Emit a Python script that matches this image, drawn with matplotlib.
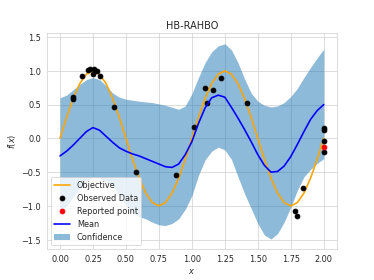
import matplotlib
matplotlib.use("Agg")
import matplotlib.pyplot as plt
import seaborn as sns

# grid of x values the curves were read at
x_grid = [0.00, 0.05, 0.10, 0.15, 0.20, 0.25, 0.30, 0.35, 0.40, 0.45,
          0.50, 0.55, 0.60, 0.65, 0.70, 0.75, 0.80, 0.85, 0.90, 0.95,
          1.00, 1.05, 1.10, 1.15, 1.20, 1.25, 1.30, 1.35, 1.40, 1.45,
          1.50, 1.55, 1.60, 1.65, 1.70, 1.75, 1.80, 1.85, 1.90, 1.95, 2.00]

objective = [0.00, 0.31, 0.59, 0.81, 0.95, 1.00, 0.95, 0.81, 0.59, 0.31,
             0.00, -0.31, -0.59, -0.81, -0.95, -1.00, -0.95, -0.81, -0.59, -0.31,
             0.00, 0.31, 0.59, 0.81, 0.95, 1.00, 0.95, 0.81, 0.59, 0.31,
             0.00, -0.31, -0.59, -0.81, -0.95, -1.00, -0.95, -0.81, -0.59, -0.31, 0.00]

mean = [-0.26, -0.19, -0.10, 0.00, 0.10, 0.16, 0.12, 0.03, -0.06, -0.14,
        -0.19, -0.23, -0.26, -0.30, -0.34, -0.38, -0.42, -0.43, -0.38, -0.24,
        -0.05, 0.22, 0.45, 0.60, 0.64, 0.61, 0.46, 0.30, 0.13, -0.05,
        -0.24, -0.40, -0.50, -0.49, -0.41, -0.27, -0.09, 0.10, 0.28, 0.41, 0.50]

upper = [0.60, 0.64, 0.72, 0.80, 0.87, 0.90, 0.87, 0.78, 0.67, 0.61,
         0.58, 0.565, 0.55, 0.54, 0.53, 0.51, 0.49, 0.46, 0.43, 0.48,
         0.66, 0.90, 1.12, 1.28, 1.37, 1.40, 1.31, 1.12, 0.88, 0.67,
         0.55, 0.49, 0.465, 0.48, 0.53, 0.62, 0.74, 0.90, 1.05, 1.19, 1.32]

lower = [-1.12, -1.00, -0.87, -0.74, -0.63, -0.575, -0.59, -0.64, -0.71, -0.84,
         -0.99, -1.10, -1.16, -1.19, -1.24, -1.28, -1.29, -1.26, -1.19, -1.05,
         -0.85, -0.55, -0.32, -0.19, -0.13, -0.17, -0.31, -0.57, -0.82, -1.04,
         -1.26, -1.43, -1.49, -1.41, -1.24, -1.02, -0.77, -0.57, -0.46, -0.37, -0.30]

# observed evaluations
obs_x = [0.10, 0.10, 0.167, 0.21, 0.23, 0.255, 0.28, 0.25, 0.30, 0.41,
         0.58, 0.88, 1.02, 1.10, 1.115, 1.158, 1.22, 1.42,
         1.785, 1.795, 1.844, 2.0, 2.0, 2.0, 2.0]
obs_y = [0.61, 0.58, 0.92, 1.01, 1.02, 1.02, 1.00, 0.96, 0.93, 0.46,
         -0.50, -0.54, 0.17, 0.75, 0.525, 0.72, 0.89, 0.52,
         -1.08, -1.15, -0.73, 0.15, 0.12, -0.04, -0.20]

reported_x = [2.0]
reported_y = [-0.13]

sns.set_style("whitegrid")
plt.rcParams['font.family'] = ['DejaVu Sans']

fig, ax = plt.subplots(figsize=(6.41, 4.8), dpi=58.4)

ax.plot(x_grid, objective, color='orange', lw=2, label='Objective')
ax.plot(obs_x, obs_y, 'o', color='black', markersize=6, label='Observed Data')
ax.plot(reported_x, reported_y, 'o', color='red', markersize=6, label='Reported point')
ax.plot(x_grid, mean, color='blue', lw=2, label='Mean')
ax.fill_between(x_grid, lower, upper, color='tab:blue', alpha=0.5, linewidth=0, label='Confidence')

ax.set_xlim(-0.1, 2.1)
ax.set_ylim(-1.64, 1.555)
ax.set_xticks([0.0, 0.25, 0.5, 0.75, 1.0, 1.25, 1.5, 1.75, 2.0])
ax.set_yticks([-1.5, -1.0, -0.5, 0.0, 0.5, 1.0, 1.5])
ax.set_xlabel('$x$')
ax.set_ylabel('$f(x)$')
ax.set_title('HB-RAHBO')
ax.legend(loc='lower left')

fig.savefig('out.png', dpi=58.4)
